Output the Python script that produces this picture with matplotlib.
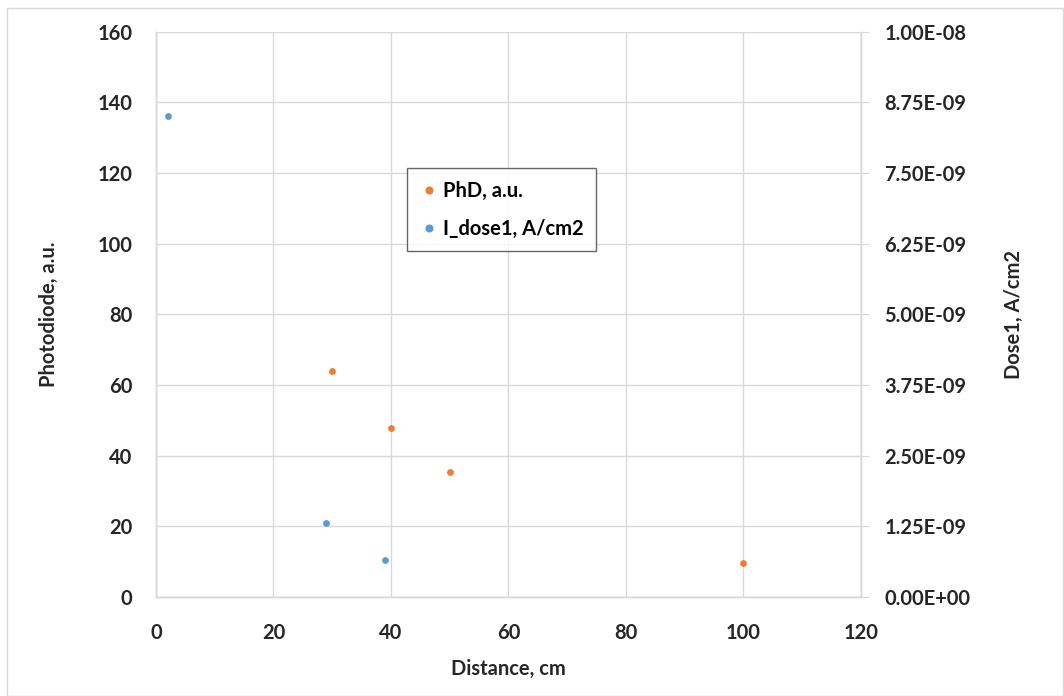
import matplotlib
matplotlib.use("Agg")
import matplotlib.pyplot as plt
from matplotlib.patches import Rectangle
from matplotlib.lines import Line2D

# Data
phd_distance = [30, 40, 50, 100]
phd_values = [64, 47.7, 35.5, 9.7]
dose_distance = [2, 29, 39]
dose_values = [8.5e-9, 1.31e-9, 6.5e-10]

x_ticks = [0, 20, 40, 60, 80, 100, 120]
left_ticks = [0, 20, 40, 60, 80, 100, 120, 140, 160]
right_ticks = [0, 1.25e-9, 2.5e-9, 3.75e-9, 5e-9, 6.25e-9, 7.5e-9, 8.75e-9, 1e-8]
right_labels = ["0.00E+00", "1.25E-09", "2.50E-09", "3.75E-09", "5.00E-09",
                "6.25E-09", "7.50E-09", "8.75E-09", "1.00E-08"]

orange = "#ED7D31"
blue = "#5B9BD5"
grid_c = "#D9D9D9"
text_c = "#262626"
fs = 14.5

plt.rcParams['font.family'] = ['Lato', 'DejaVu Sans']
plt.rcParams['font.weight'] = 'bold'

fig = plt.figure(figsize=(10.64, 6.96), dpi=100)
fig.patches.append(Rectangle((0.007, 0.0), 0.992, 0.988, transform=fig.transFigure,
                             fill=False, edgecolor="#D9D9D9", linewidth=1))
ax = fig.add_axes([0.1466, 0.1422, 0.8092 - 0.1466, 0.9545 - 0.1422])
ax2 = ax.twinx()

ax.scatter(phd_distance, phd_values, s=24, color=orange, zorder=3, linewidths=0)
ax2.scatter(dose_distance, dose_values, s=24, color=blue, zorder=3, linewidths=0)

ax.set_xlim(0, 120)
ax.set_ylim(0, 160)
ax2.set_ylim(0, 1e-8)
ax.set_xticks(x_ticks)
ax.set_yticks(left_ticks)
ax2.set_yticks(right_ticks)
ax2.set_yticklabels(right_labels)

ax.grid(True, color=grid_c, linewidth=1)
ax.set_axisbelow(True)

for a in (ax, ax2):
    a.spines['top'].set_visible(False)
    for s in ('left', 'right', 'bottom'):
        a.spines[s].set_color(grid_c)
        a.spines[s].set_linewidth(1)
ax.tick_params(axis='y', length=0, labelsize=fs, labelcolor=text_c, pad=17)
ax.tick_params(axis='x', length=0, labelsize=fs, labelcolor=text_c, pad=19)
ax2.tick_params(axis='y', length=6, color=grid_c, labelsize=fs, labelcolor=text_c, pad=11)

ax.set_xlabel("Distance, cm", fontsize=fs, fontweight='bold', color=text_c, labelpad=11)
ax.set_ylabel("Photodiode, a.u.", fontsize=fs, fontweight='bold', color=text_c, labelpad=28)
ax2.set_ylabel("Dose1, A/cm2", fontsize=fs, fontweight='bold', color=text_c, labelpad=24)

handles = [Line2D([], [], marker='o', linestyle='none', color=orange, markersize=4.8, label="PhD, a.u."),
           Line2D([], [], marker='o', linestyle='none', color=blue, markersize=4.8, label="I_dose1, A/cm2")]
leg = ax2.legend(handles=handles, loc='upper left', bbox_to_anchor=(0.356, 0.758),
                 borderaxespad=0, frameon=True, fancybox=False, edgecolor="#404040", fontsize=fs,
                 handletextpad=0.2, handlelength=1.0, borderpad=0.6, labelspacing=0.9)
leg.get_frame().set_linewidth(1)
for t in leg.get_texts():
    t.set_color("#000000")

fig.savefig("out.png", dpi=100)
